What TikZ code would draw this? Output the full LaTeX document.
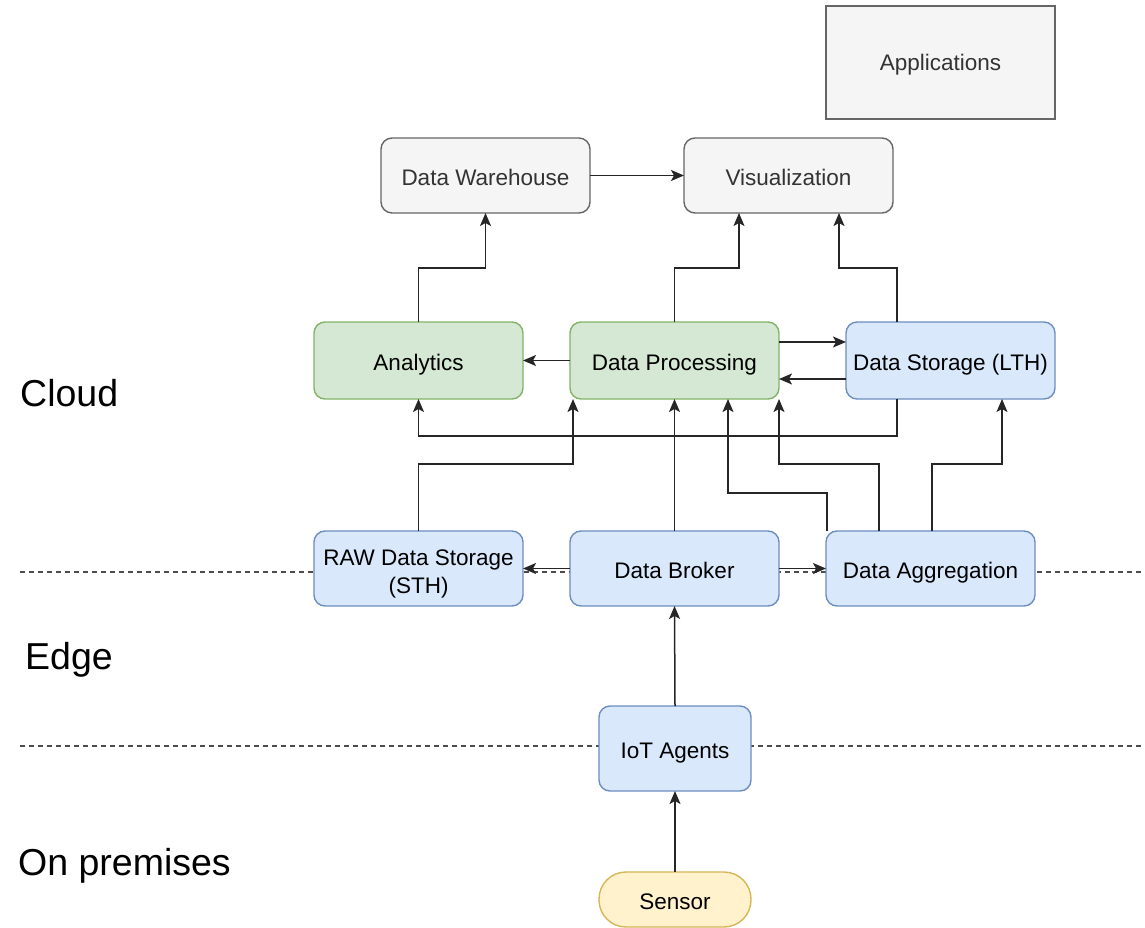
\documentclass[tikz,border=0pt]{standalone}
\usepackage{fontspec}
\setmainfont{Liberation Sans}
\usetikzlibrary{arrows.meta}
\definecolor{greyfill}{HTML}{F5F5F5}
\definecolor{greyline}{HTML}{666666}
\definecolor{greytext}{HTML}{333333}
\definecolor{greenfill}{HTML}{D5E8D4}
\definecolor{greenline}{HTML}{82B366}
\definecolor{bluefill}{HTML}{DAE8FC}
\definecolor{blueline}{HTML}{6C8EBF}
\definecolor{yellowfill}{HTML}{FFF2CC}
\definecolor{yellowline}{HTML}{D6B656}
\newcommand\bxfont{\fontsize{22.5}{28}\selectfont}
\newcommand\zonefont{\fontsize{37.5}{44}\selectfont}
\tikzset{
  box/.style={draw, rounded corners=11pt, line width=1.4pt, inner sep=0pt,
    outer sep=0pt, align=center, font=\bxfont, minimum width=209pt, minimum height=76pt,
    text height=20pt, text depth=0pt},
  greybox/.style={box, fill=greyfill, draw=greyline, text=greytext},
  greenbox/.style={box, fill=greenfill, draw=greenline, text=black},
  bluebox/.style={box, fill=bluefill, draw=blueline, text=black},
  yellowbox/.style={box, fill=yellowfill, draw=yellowline, text=black},
  arr/.style={draw=black!85, line width=1.5pt,
    -{Stealth[length=13pt,width=11pt,inset=3pt]}},
  zone/.style={anchor=west, font=\zonefont, inner sep=0pt},
  tier/.style={draw=black!70, line width=1.3pt, dash pattern=on 5pt off 4pt},
}
\begin{document}
\begin{tikzpicture}[x=1pt,y=-1pt]
\useasboundingbox (0,0) rectangle (1145,928);

% tier separators
\draw[tier] (20,572) -- (1145,572);
\draw[tier] (20,746) -- (1145,746);

% tier labels
\node[zone] (cloud) at (20,393) {Cloud};
\node[zone] (edge) at (25,660) {Edge};
\node[zone] (prem) at (18,866) {On premises};

% components
\node[greybox, rounded corners=0pt, minimum width=229pt, minimum height=113pt, text height=16pt] (app) at (940.5,62.5) {Applications};
\node[greybox, minimum height=75pt] (dw) at (485.5,175.5) {Data Warehouse};
\node[greybox, minimum height=75pt] (vis) at (788.5,175.5) {Visualization};
\node[greenbox, minimum height=77pt] (ana) at (418.5,360.5) {Analytics};
\node[greenbox, minimum height=77pt] (proc) at (674.5,360.5) {Data Processing};
\node[bluebox, minimum height=77pt] (lth) at (950.5,360.5) {Data Storage (LTH)};
\node[bluebox, minimum height=75pt, text height=49pt, text depth=0pt] (raw) at (418.5,568.5) {RAW Data Storage\\(STH)};
\node[bluebox, minimum height=75pt] (broker) at (674.5,568.5) {Data Broker};
\node[bluebox, minimum height=75pt] (agg) at (930.5,568.5) {Data Aggregation};
\node[bluebox, minimum width=152pt, minimum height=85pt] (iot) at (675,748.5) {IoT Agents};
\node[yellowbox, rounded corners=27pt, minimum width=152pt, minimum height=55pt] (sensor) at (675,899.5) {Sensor};

% data flows
\draw[arr] (dw.east) -- (vis.west);
\draw[arr] (ana.north) -- (ana.north |- 0,268) -| (dw.south);
\draw[arr] (proc.north) -- (proc.north |- 0,268) -| (vis.south -| 739,0);
\draw[arr] (lth.north -| 897,0) -- (897,268) -| (vis.south -| 839,0);
\draw[arr] (proc.west) -- (ana.east);
\draw[arr] (proc.east |- 0,342) -- (lth.west |- 0,342);
\draw[arr] (lth.west |- 0,379) -- (proc.east |- 0,379);
\draw[arr] (lth.south -| 897,0) -- (897,436) -| (ana.south);
\draw[arr] (raw.north) -- (raw.north |- 0,464) -| (proc.south -| 573,0);
\draw[arr] (broker.north) -- (proc.south);
\draw[arr] (agg.north -| 827,0) -- (827,493) -| (proc.south -| 728,0);
\draw[arr] (agg.north -| 879,0) -- (879,464) -| (proc.south -| 779,0);
\draw[arr] (agg.north -| 932,0) -- (932,464) -| (lth.south -| 1002,0);
\draw[arr] (broker.west) -- (raw.east);
\draw[arr] (broker.east) -- (agg.west);
\draw[arr] (iot.north) -- (broker.south);
\draw[arr] (sensor.north) -- (iot.south);
\end{tikzpicture}
\end{document}
